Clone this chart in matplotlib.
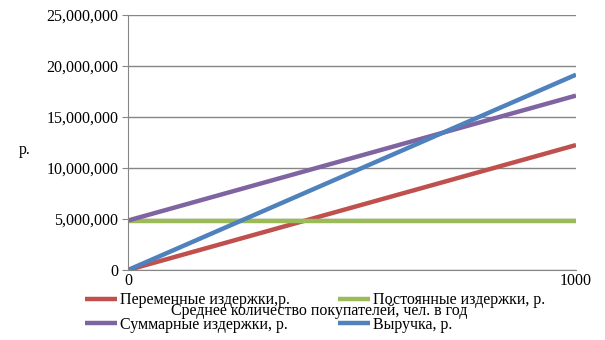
import matplotlib
matplotlib.use("Agg")
import matplotlib.pyplot as plt
from matplotlib.ticker import FuncFormatter

# данные (читаются с картинки)
buyers = [0, 1000]
variable = [0, 12250000]
fixed = [4850000, 4850000]
total = [4850000, 17100000]
revenue = [0, 19150000]

labels = ['Переменные издержки,р.', 'Постоянные издержки, р.',
          'Суммарные издержки, р.', 'Выручка, р.']
colors = ['#c0504d', '#9bbb59', '#8064a2', '#4f81bd']

plt.rcParams['font.family'] = ['Liberation Serif', 'DejaVu Serif']
plt.rcParams['font.size'] = 11.5

fig = plt.figure(figsize=(6.05, 3.4), dpi=100)
ax = fig.add_axes([128 / 605, 1 - 270 / 340, 448 / 605, 255 / 340])

series = [variable, fixed, total, revenue]
lines = []
for vals, lab, col in zip(series, labels, colors):
    ln, = ax.plot(buyers, vals, color=col, lw=3.2, label=lab, solid_capstyle='butt')
    lines.append(ln)

ax.set_xlim(0, 1000)
ax.set_ylim(0, 25000000)
ax.set_yticks(range(0, 25000001, 5000000))
ax.yaxis.set_major_formatter(FuncFormatter(lambda v, p: f'{int(v):,}'))
ax.set_xticks([0, 1000])
ax.tick_params(axis='x', length=0, pad=2)
ax.tick_params(axis='y', length=4, color='#868686', pad=3)
ax.grid(axis='y', color='#868686', lw=1)
ax.set_axisbelow(True)
for s in ['top', 'right']:
    ax.spines[s].set_visible(False)
ax.spines['left'].set_color('#868686')
ax.spines['bottom'].set_color('#868686')

# подпись оси X в оригинале наложена на легенду
ax.set_xlabel('Среднее количество покупателей, чел. в год')
ax.xaxis.set_label_coords(0.426, -0.13)
fig.text(25 / 605, 1 - 150 / 340, 'р.', ha='center', va='center')

# порядок: строка 1 — переменные, постоянные; строка 2 — суммарные, выручка
order = [lines[0], lines[2], lines[1], lines[3]]
fig.legend(order, [l.get_label() for l in order], ncol=2, frameon=False,
           loc='upper left', bbox_to_anchor=(74 / 605, 1 - 281 / 340),
           handlelength=2.0, handletextpad=0.2, columnspacing=3.0,
           labelspacing=0.55, borderpad=0.2)

fig.savefig('out.png', dpi=100)
